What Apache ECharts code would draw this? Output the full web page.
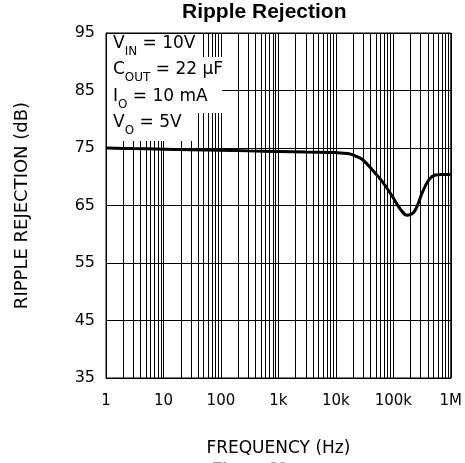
<!DOCTYPE html>
<html>
<head>
<meta charset="utf-8">
<script src="https://cdn.jsdelivr.net/npm/echarts@6/dist/echarts.min.js"></script>
<style>html,body{margin:0;padding:0;background:#fff;}#c{width:465px;height:463px;}</style>
</head>
<body>
<div id="c"></div>
<script>
// Data
const freqHz = [1, 3, 10, 30, 100, 300, 1000, 3000, 10000, 17000, 22000, 29000, 43000, 64000, 96000, 134000, 175000, 215000, 244000, 280000, 318000, 418000, 540000, 700000, 1000000];
const rippleDb = [75.0, 74.9, 74.8, 74.7, 74.6, 74.5, 74.4, 74.3, 74.2, 74.0, 73.6, 73.0, 71.2, 69.2, 66.6, 64.3, 63.3, 63.6, 64.3, 65.7, 67.2, 69.5, 70.3, 70.4, 70.4];
const xTickValues = [1, 10, 100, 1000, 10000, 100000, 1000000];
const xTickLabels = ['1', '10', '100', '1k', '10k', '100k', '1M'];
const yTickLabels = ['35', '45', '55', '65', '75', '85', '95'];
const decades = [1, 10, 100, 1000, 10000, 100000];
const gridMultipliers = [2, 3, 4, 5, 6, 7, 8, 9];

const minorLines = [];
decades.forEach(d => gridMultipliers.forEach(m => minorLines.push({ xAxis: d * m })));

const chart = echarts.init(document.getElementById('c'));
const FONT = 'DejaVu Sans';
function cond(main, sub, rest, y) {
  return {
    type: 'text', left: 113, top: y, z: 101, zlevel: 1,
    style: {
      text: '{m|' + main + '}{s|' + sub + '}{m|' + rest + '}',
      rich: {
        m: { fontFamily: FONT, fontSize: 17, lineHeight: 17, padding: [0, 0, 6, 0], verticalAlign: 'bottom', fill: '#000' },
        s: { fontFamily: FONT, fontSize: 12, lineHeight: 12, padding: [11, 0, 0, 0], verticalAlign: 'bottom', fill: '#000' }
      }
    }
  };
}
function mask(x, y, w, h) {
  return { type: 'rect', z: 100, zlevel: 1, shape: { x: x, y: y, width: w, height: h }, style: { fill: '#fff' } };
}
chart.setOption({
  animation: false,
  title: {
    text: 'Ripple Rejection', left: 182, top: 2, padding: 0,
    textStyle: { fontFamily: 'Liberation Sans', fontWeight: 'bold', fontSize: 21, color: '#000' }
  },
  grid: { left: 106, top: 33, width: 346, height: 345, show: true, borderColor: '#000', borderWidth: 1 },
  xAxis: {
    type: 'log', logBase: 10, min: 1, max: 1000000,
    name: 'FREQUENCY (Hz)', nameLocation: 'middle', nameGap: 62,
    nameTextStyle: { fontFamily: FONT, fontSize: 17, color: '#000' },
    axisLine: { show: true, lineStyle: { color: '#000', width: 1 } },
    axisTick: { show: false },
    axisLabel: {
      margin: 16, fontFamily: FONT, fontSize: 15, color: '#000',
      formatter: v => { const i = xTickValues.indexOf(Math.round(v)); return i >= 0 ? xTickLabels[i] : ''; }
    },
    splitLine: { show: true, lineStyle: { color: '#000', width: 1 } },
    minorTick: { show: false }, minorSplitLine: { show: false }
  },
  yAxis: {
    type: 'value', min: 35, max: 95, interval: 10,
    name: 'RIPPLE REJECTION (dB)', nameLocation: 'middle', nameGap: 75,
    nameTextStyle: { fontFamily: FONT, fontSize: 18, color: '#000' },
    axisLine: { show: true, lineStyle: { color: '#000', width: 1 } },
    axisTick: { show: false },
    axisLabel: {
      margin: 11, fontFamily: FONT, fontSize: 16, color: '#000',
      formatter: v => { const i = yTickLabels.indexOf(String(Math.round(v))); return i >= 0 ? yTickLabels[i] : ''; }
    },
    splitLine: { show: true, lineStyle: { color: '#000', width: 1 } }
  },
  series: [{
    type: 'line',
    data: freqHz.map((f, i) => [f, rippleDb[i]]),
    smooth: 0.4,
    showSymbol: false,
    lineStyle: { color: '#000', width: 3 },
    z: 5,
    markLine: {
      silent: true, symbol: ['none', 'none'], label: { show: false },
      lineStyle: { color: '#000', width: 1, type: 'solid' },
      emphasis: { disabled: true },
      data: minorLines, z: 3
    }
  }],
  graphic: [
    mask(107, 34, 95, 23),
    mask(107, 57, 130, 27),
    mask(107, 84, 115, 29),
    mask(107, 113, 89, 28),
    cond('V', 'IN', ' = 10V', 35),
    cond('C', 'OUT', ' = 22 \u03bcF', 61),
    cond('I', 'O', ' = 10 mA', 88),
    cond('V', 'O', ' = 5V', 114),
    {
      type: 'text', left: 212, top: 461, z: 100,
      style: { text: 'Figure 30.', fontFamily: 'Liberation Sans', fontWeight: 'bold', fontSize: 17, fill: '#999' }
    }
  ]
});
</script>
</body>
</html>
